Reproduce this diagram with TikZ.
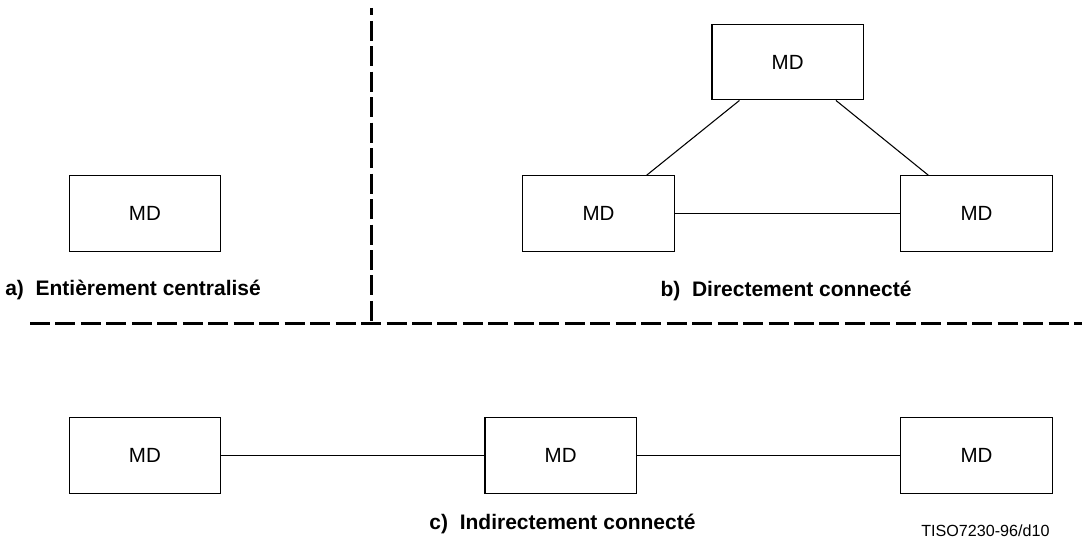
\documentclass[tikz,border=0pt]{standalone}
\usepackage{fontspec}
\setmainfont{Liberation Sans}
\begin{document}
\begin{tikzpicture}[x=0.75pt,y=-0.75pt,
  mdbox/.style={draw, line width=0.8pt, rectangle, minimum width=113.6pt,
    minimum height=56.6pt, inner sep=0pt, font=\fontsize{15.4}{18}\selectfont},
  link/.style={line width=0.8pt},
  divider/.style={line width=2.3pt, dash pattern=on 15pt off 4.1pt},
  caption/.style={inner sep=0pt, font=\fontsize{15.75}{19}\selectfont\bfseries},
  ref/.style={inner sep=0pt, font=\fontsize{12.1}{14}\selectfont}]
\useasboundingbox (0,0) rectangle (1082,542);

% a) fully centralised
\node[mdbox] (a) at (144.9,213.6) {MD};
\node[caption, anchor=base west] (alab) at (5,295) {a)\ \ Entièrement centralisé};

% b) directly connected
\node[mdbox] (bt) at (787.7,62.2) {MD};
\node[mdbox] (bl) at (598.5,213.4) {MD};
\node[mdbox] (br) at (976.5,213.4) {MD};
\draw[link] ([xshift=21pt]bt.south west) -- ([xshift=-21pt]bl.north east);
\draw[link] ([xshift=-21pt]bt.south east) -- ([xshift=21pt]br.north west);
\draw[link] (bl.east) -- (br.west);
\node[caption, anchor=base] (blab) at (786,296) {b)\ \ Directement connecté};

% separators
\coordinate (vtop) at (371.5,8);
\coordinate (vbot) at (371.5,321);
\coordinate (hleft) at (30,323.3);
\coordinate (hright) at (1082,323.3);
\draw[divider, dash phase=9.5pt] (vtop) -- (vbot);
\draw[divider] (hleft) -- (hright);

% c) indirectly connected
\node[mdbox] (cl) at (144.9,455.5) {MD};
\node[mdbox] (cm) at (560.7,455.5) {MD};
\node[mdbox] (cr) at (976.5,455.5) {MD};
\draw[link] (cl.east) -- (cm.west);
\draw[link] (cm.east) -- (cr.west);
\node[caption, anchor=base] (clab) at (562.5,529) {c)\ \ Indirectement connecté};

\node[ref, anchor=base west] (tag) at (921,536.5) {TISO7230-96/d10};
\end{tikzpicture}
\end{document}
